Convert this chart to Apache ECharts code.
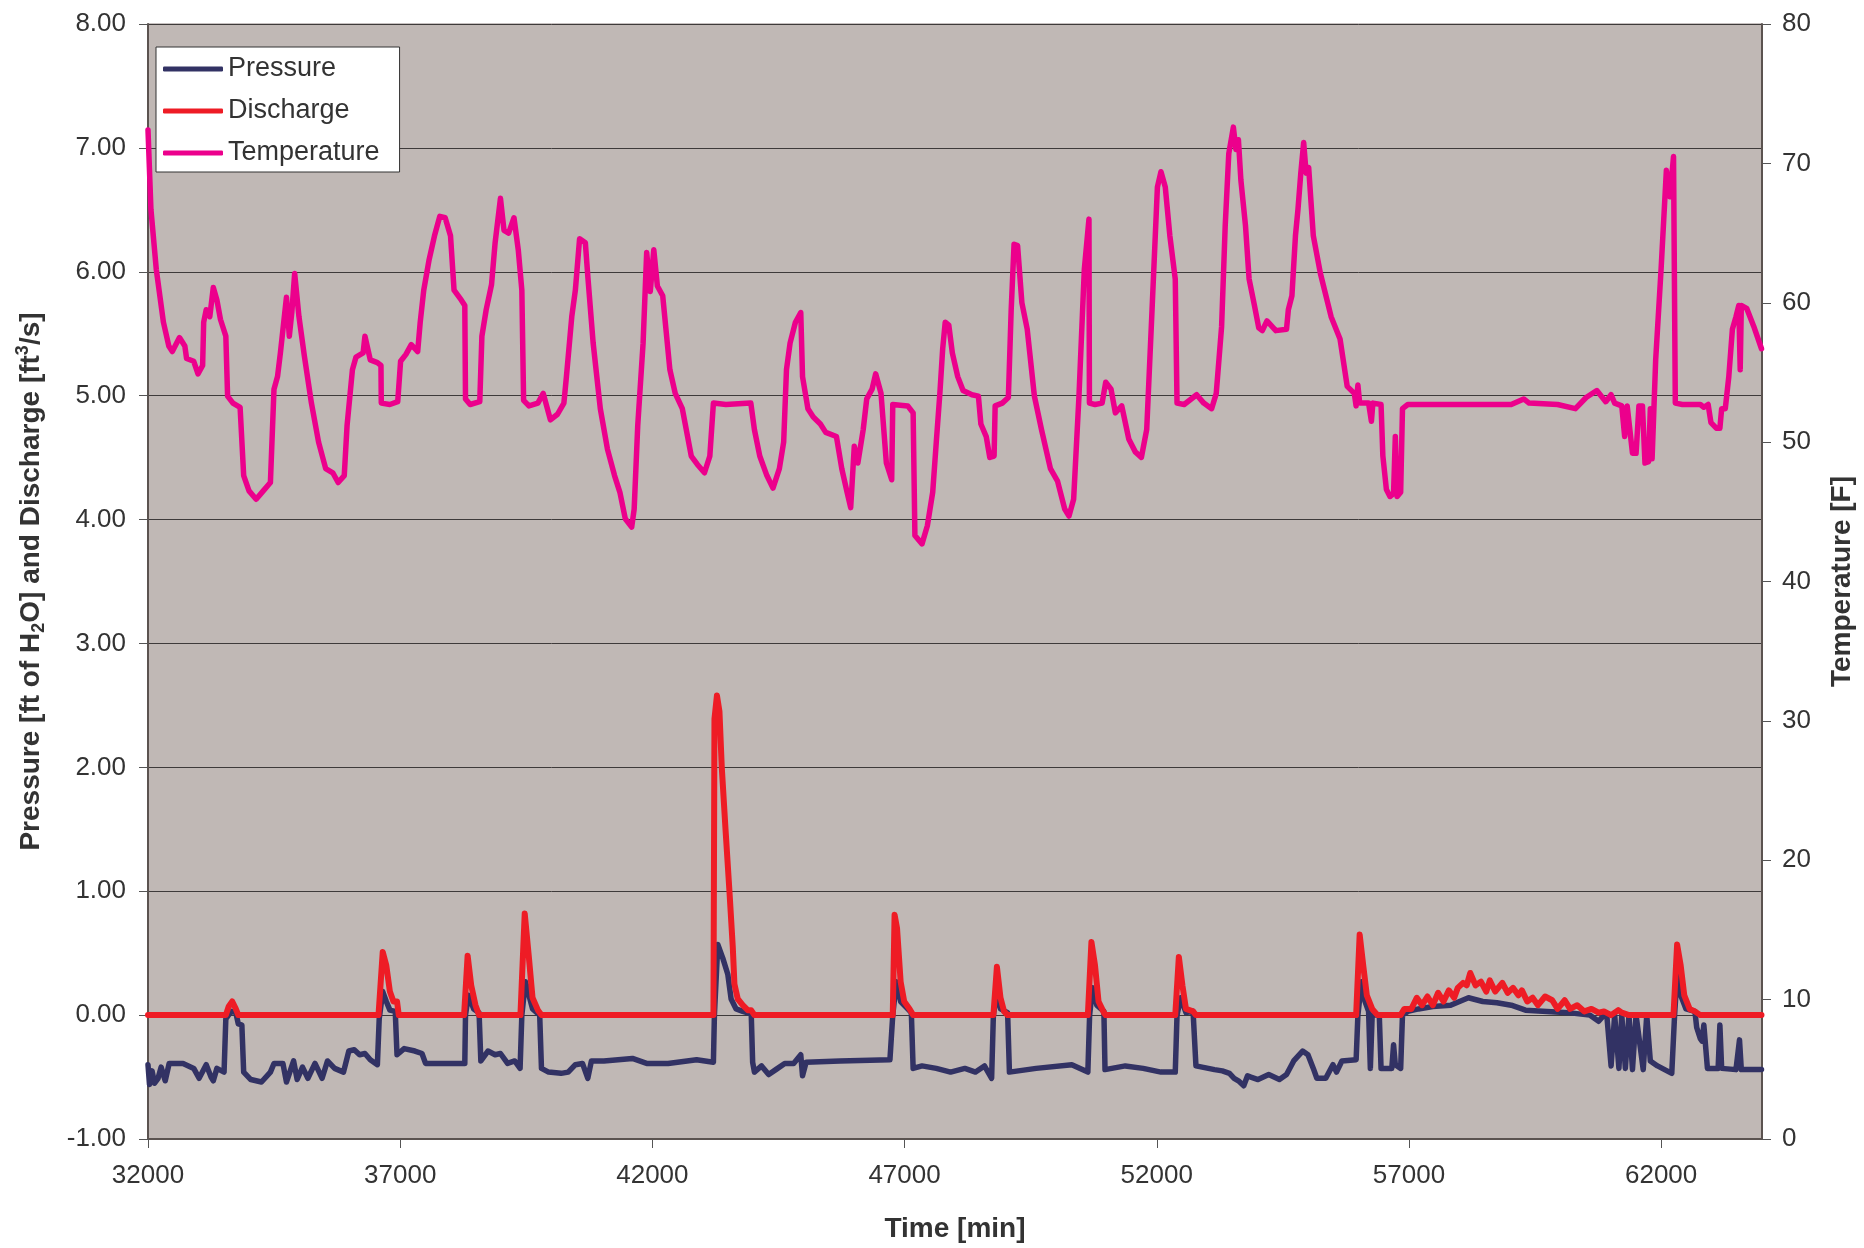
<!DOCTYPE html>
<html>
<head>
<meta charset="utf-8">
<script src="https://cdn.jsdelivr.net/npm/echarts@6/dist/echarts.min.js"></script>
<style>
html,body{margin:0;padding:0;background:#fff;}
#chart{width:1864px;height:1248px;}
</style>
</head>
<body>
<div id="chart"></div>
<script>
// ---- Data (time in minutes) ----
const T0 = 32000; // axis start
const xTickLabels = [32000, 37000, 42000, 47000, 52000, 57000, 62000];

const tempTime = [32000,32058,32164,32306,32412,32482,32624,32730,32765,32907,32991,33083,33104,33154,33225,33295,33366,33437,33543,33578,33684,33826,33897,34003,34144,34285,34427,34498,34568,34625,34745,34802,34851,34908,34993,35099,35240,35382,35523,35664,35770,35891,35947,36053,36124,36265,36301,36407,36548,36619,36625,36796,36951,37008,37114,37220,37347,37397,37467,37574,37680,37786,37892,37998,38068,38210,38281,38295,38387,38578,38620,38705,38811,38882,38988,39058,39150,39256,39341,39412,39447,39553,39730,39836,39978,40119,40246,40296,40402,40473,40557,40671,40720,40826,40968,41109,41250,41356,41463,41590,41639,41710,41816,41887,41958,42028,42099,42205,42347,42453,42594,42771,42892,43033,43139,43210,43457,43952,44023,44129,44270,44391,44518,44603,44659,44730,44836,44942,44977,45084,45190,45331,45437,45649,45755,45861,45932,46003,46074,46180,46250,46356,46427,46533,46639,46745,46766,47063,47170,47205,47346,47452,47558,47629,47700,47756,47806,47877,47947,48054,48160,48336,48464,48513,48619,48690,48775,48796,48937,49058,49114,49171,49241,49326,49432,49574,49715,49892,50033,50175,50260,50352,50458,50564,50656,50665,50776,50917,50988,51094,51179,51306,51447,51575,51695,51801,51907,52013,52084,52169,52260,52367,52402,52543,52791,52932,53088,53180,53286,53357,53428,53519,53569,53619,53668,53760,53831,53937,54022,54093,54185,54361,54573,54609,54680,54750,54800,54856,54913,54962,55012,55104,55245,55457,55634,55776,55917,55952,55988,56023,56200,56256,56285,56447,56483,56553,56624,56695,56730,56766,56836,56872,56978,57614,58180,59028,59276,59382,59947,60301,60513,60725,60902,61008,61079,61220,61277,61327,61432,61503,61560,61630,61680,61751,61786,61821,61892,61999,62104,62175,62246,62281,62423,62777,62847,62932,62988,63094,63165,63200,63272,63342,63413,63484,63540,63568,63590,63696,63837,63990];
const tempValues = [72.4,66.7,62.4,58.6,56.9,56.5,57.5,56.9,56.0,55.8,54.9,55.5,58.6,59.5,59.0,61.1,60.2,58.8,57.6,53.3,52.8,52.5,47.6,46.5,45.9,46.5,47.1,53.8,54.7,56.4,60.4,57.6,59.3,62.1,59.0,56.2,52.8,50.0,48.1,47.8,47.1,47.6,51.2,55.2,56.1,56.4,57.6,55.9,55.7,55.5,52.8,52.7,52.9,55.8,56.3,57.0,56.5,58.6,60.9,63.1,64.8,66.2,66.1,64.8,60.9,60.2,59.8,53.1,52.7,52.9,57.6,59.5,61.3,64.3,67.5,65.2,65.0,66.1,63.8,60.9,53.0,52.6,52.8,53.5,51.6,52.0,52.8,54.7,59.0,60.9,64.6,64.3,61.9,57.1,52.4,49.5,47.6,46.4,44.5,43.9,45.2,51.2,57.1,63.6,60.8,63.8,61.2,60.5,55.2,53.5,52.4,49.0,48.4,47.8,49.0,52.8,52.7,52.8,50.9,49.0,47.6,46.7,48.1,50.0,55.2,57.1,58.6,59.3,54.7,52.4,51.8,51.3,50.7,50.4,48.1,46.4,45.3,49.7,48.5,50.9,53.1,53.8,54.9,53.5,48.5,47.3,52.7,52.6,52.1,43.3,42.7,44.0,46.4,50.0,53.5,56.7,58.6,58.4,56.4,54.7,53.7,53.4,53.3,51.3,50.4,48.9,49.0,52.6,52.8,53.2,59.5,64.2,64.1,60.0,58.1,53.3,50.9,48.1,47.2,45.2,44.7,45.9,53.3,62.4,66.0,52.8,52.7,52.8,54.3,53.8,52.1,52.6,50.2,49.3,48.9,50.9,59.5,68.3,69.4,68.3,64.8,61.7,52.8,52.7,53.4,52.8,52.4,53.5,58.3,65.5,70.7,72.6,71.0,71.7,68.8,65.5,61.7,59.8,58.2,58.0,58.7,58.0,58.1,59.5,60.5,64.8,66.7,69.3,71.5,69.3,69.7,64.8,62.1,59.0,57.4,54.0,53.5,52.6,54.1,52.8,52.8,51.5,52.8,52.7,49.0,46.6,46.1,46.3,50.4,46.1,46.4,52.4,52.7,52.7,52.7,52.7,53.1,52.8,52.7,52.4,53.2,53.7,52.9,53.4,52.8,52.6,50.4,52.6,49.2,49.2,52.6,52.6,48.5,48.6,52.4,48.8,55.9,62.4,69.5,67.6,70.5,52.8,52.7,52.7,52.5,52.7,51.4,51.0,51.0,52.4,52.4,54.7,58.1,59.0,59.8,55.2,59.8,59.6,58.3,56.7];

const presTime = [32000,32030,32080,32130,32200,32260,32341,32420,32482,32695,32907,33013,33154,33250,33295,33366,33508,33543,33649,33741,33790,33861,33897,34038,34250,34427,34498,34675,34745,34887,34957,35063,35170,35311,35452,35558,35700,35876,35982,36089,36195,36301,36407,36548,36584,36654,36725,36796,36902,36937,37079,37291,37432,37503,38281,38295,38352,38458,38564,38599,38740,38882,38988,39129,39270,39377,39412,39483,39553,39624,39766,39801,39942,40190,40331,40473,40614,40720,40791,41039,41604,41887,42311,42877,43210,43230,43297,43396,43495,43561,43660,43792,43960,43988,44023,44164,44306,44447,44624,44801,44942,44977,45048,45720,46710,46766,46837,46922,47063,47134,47170,47346,47629,47912,48195,48407,48584,48726,48761,48831,48902,49043,49079,49609,50316,50634,50669,50726,50811,50952,50974,51377,51731,52084,52367,52402,52473,52579,52720,52777,53145,53300,53442,53534,53619,53725,53800,53866,54008,54220,54432,54573,54715,54892,54998,55104,55174,55351,55493,55564,55670,55953,55988,56059,56130,56200,56235,56271,56412,56447,56660,56695,56730,56836,56872,56978,57190,57473,57826,58180,58463,58745,59028,59311,59735,60160,60584,60761,60867,60923,61008,61079,61163,61220,61291,61362,61432,61503,61645,61715,61786,61928,62211,62267,62317,62388,62493,62670,62705,62777,62812,62847,62918,63130,63165,63200,63484,63554,63590,63990];
const presValues = [-0.40,-0.56,-0.45,-0.55,-0.51,-0.42,-0.53,-0.39,-0.39,-0.39,-0.43,-0.51,-0.40,-0.50,-0.53,-0.43,-0.46,-0.03,0.03,0.02,-0.07,-0.08,-0.46,-0.52,-0.54,-0.46,-0.39,-0.39,-0.54,-0.37,-0.52,-0.42,-0.51,-0.39,-0.51,-0.37,-0.43,-0.46,-0.29,-0.28,-0.32,-0.31,-0.36,-0.40,-0.03,0.19,0.11,0.04,0.03,-0.32,-0.27,-0.29,-0.31,-0.39,-0.39,0.00,0.16,0.05,0.02,-0.37,-0.29,-0.32,-0.31,-0.39,-0.37,-0.43,0.00,0.27,0.16,0.05,0.00,-0.43,-0.46,-0.47,-0.46,-0.40,-0.39,-0.51,-0.37,-0.37,-0.35,-0.39,-0.39,-0.36,-0.38,0.00,0.57,0.46,0.33,0.13,0.05,0.03,0.01,-0.38,-0.46,-0.41,-0.48,-0.44,-0.39,-0.39,-0.32,-0.49,-0.38,-0.37,-0.36,0.00,0.27,0.11,0.05,0.02,-0.43,-0.41,-0.43,-0.46,-0.43,-0.46,-0.41,-0.51,0.00,0.19,0.05,0.02,-0.46,-0.43,-0.40,-0.46,0.00,0.22,0.08,0.03,-0.44,-0.41,-0.43,-0.46,-0.46,0.00,0.14,0.02,0.03,-0.41,-0.44,-0.45,-0.47,-0.51,-0.53,-0.57,-0.49,-0.50,-0.52,-0.48,-0.52,-0.48,-0.37,-0.29,-0.32,-0.43,-0.51,-0.51,-0.40,-0.46,-0.37,-0.36,0.00,0.27,0.11,0.03,-0.43,0.00,0.00,-0.43,-0.43,-0.24,-0.40,-0.43,0.00,0.03,0.05,0.07,0.08,0.14,0.11,0.10,0.08,0.04,0.03,0.02,0.00,-0.05,0.00,0.00,-0.41,0.00,-0.43,0.00,-0.43,0.00,-0.44,0.00,-0.44,0.00,-0.37,-0.41,-0.47,0.00,0.32,0.16,0.05,0.03,-0.10,-0.19,-0.21,-0.08,-0.43,-0.43,-0.08,-0.43,-0.44,-0.20,-0.44,-0.44];

const dischTime = [32000,33543,33600,33670,33741,33790,36570,36654,36725,36796,36866,36937,36972,38267,38337,38408,38493,38564,39384,39469,39553,39624,39730,39801,43211,43231,43280,43330,43376,43450,43528,43594,43627,43693,43792,43891,43957,44023,46766,46802,46851,46922,46993,47099,47170,48761,48831,48902,48973,49043,50634,50705,50776,50846,50952,50988,52367,52438,52509,52579,52720,52777,55953,56023,56094,56165,56271,56377,56836,56907,57048,57155,57260,57367,57473,57579,57685,57791,57897,57968,58074,58145,58215,58321,58427,58533,58604,58710,58852,58958,59063,59170,59240,59346,59452,59558,59700,59841,59947,60089,60195,60337,60478,60620,60761,60867,61008,61150,61220,61362,62245,62317,62388,62459,62565,62670,62777,63990];
const dischValues = [0,0,0.07,0.11,0.05,0,0,0.51,0.40,0.19,0.11,0.11,0,0,0.48,0.24,0.08,0,0,0.82,0.46,0.14,0.04,0,0,2.39,2.58,2.45,2.0,1.5,1.0,0.55,0.25,0.13,0.08,0.04,0.04,0,0,0.81,0.70,0.27,0.11,0.05,0,0,0.39,0.14,0.03,0,0,0.59,0.40,0.11,0.02,0,0,0.47,0.24,0.05,0.03,0,0,0.65,0.40,0.16,0.05,0,0,0.05,0.05,0.14,0.08,0.15,0.08,0.18,0.11,0.20,0.14,0.22,0.26,0.24,0.34,0.24,0.27,0.19,0.28,0.19,0.26,0.18,0.22,0.16,0.20,0.11,0.14,0.08,0.15,0.12,0.05,0.12,0.05,0.08,0.03,0.05,0.02,0.03,0,0.04,0.02,0,0,0.57,0.40,0.16,0.05,0.03,0,0];

function pairs(times, vals) {
  return times.map((t, i) => [t - T0, vals[i]]);
}

const FONT = "'Liberation Sans', Arial, sans-serif";
const TXT = '#333333';

const chart = echarts.init(document.getElementById('chart'), null, {renderer: 'canvas'});
chart.setOption({
  animation: false,
  backgroundColor: '#ffffff',
  textStyle: {fontFamily: FONT},
  grid: {
    left: 148, right: 102, top: 24, bottom: 107,
    show: true, backgroundColor: '#c0b8b5', borderColor: '#8e8380', borderWidth: 1,
    containLabel: false
  },
  legend: {
    orient: 'vertical',
    left: 156, top: 47,
    backgroundColor: '#ffffff',
    borderColor: '#333333', borderWidth: 1, borderRadius: 0,
    padding: [7, 20, 4, 7],
    itemGap: 12,
    itemWidth: 60, itemHeight: 5,
    icon: 'roundRect',
    textStyle: {fontSize: 27, color: TXT, fontFamily: FONT, lineHeight: 30},
    data: ['Pressure', 'Discharge', 'Temperature']
  },
  xAxis: {
    type: 'value', min: 0, max: 32000, interval: 5000,
    name: 'Time [min]', nameLocation: 'middle', nameGap: 76,
    nameTextStyle: {fontSize: 28, fontWeight: 'bold', color: TXT, fontFamily: FONT},
    axisLine: {show: true, onZero: false, lineStyle: {color: '#5b5350', width: 2}},
    axisTick: {show: true, inside: false, length: 9, lineStyle: {color: '#555'}},
    axisLabel: {fontSize: 26, color: TXT, margin: 24, fontFamily: FONT, showMaxLabel: false,
      formatter: v => String(v + T0)},
    splitLine: {show: false}
  },
  yAxis: [
    {
      type: 'value', position: 'left', min: -1, max: 8, interval: 1,
      name: 'Pressure [ft of H{sub|2}O] and Discharge [ft{sup|3}/s]',
      nameLocation: 'middle', nameRotate: 90, nameGap: 100,
      nameTextStyle: {fontSize: 28, fontWeight: 'bold', color: TXT, fontFamily: FONT, lineHeight: 34,
        rich: {
          sub: {fontSize: 18, fontWeight: 'bold', color: TXT, fontFamily: FONT, lineHeight: 18, verticalAlign: 'bottom'},
          sup: {fontSize: 18, fontWeight: 'bold', color: TXT, fontFamily: FONT, lineHeight: 18, verticalAlign: 'top'}
        }},
      axisLine: {show: true, onZero: false, lineStyle: {color: '#5b5350', width: 2}},
      axisTick: {show: true, inside: false, length: 9, lineStyle: {color: '#555'}},
      axisLabel: {fontSize: 26, color: TXT, margin: 22, fontFamily: FONT, formatter: v => v.toFixed(2)},
      splitLine: {show: true, lineStyle: {color: '#3e3a3a', width: 1}}
    },
    {
      type: 'value', position: 'right', min: 0, max: 80, interval: 10,
      name: 'Temperature [F]', nameLocation: 'middle', nameRotate: 90, nameGap: 66,
      nameTextStyle: {fontSize: 28, fontWeight: 'bold', color: TXT, fontFamily: FONT},
      axisLine: {show: true, onZero: false, lineStyle: {color: '#5b5350', width: 2}},
      axisTick: {show: true, inside: false, length: 9, lineStyle: {color: '#555'}},
      axisLabel: {fontSize: 26, color: TXT, margin: 20, fontFamily: FONT},
      splitLine: {show: false}
    }
  ],
  series: [
    {
      name: 'Pressure', type: 'line', yAxisIndex: 0, showSymbol: false, symbol: 'none',
      data: pairs(presTime, presValues),
      itemStyle: {color: '#323264'},
      lineStyle: {color: '#323264', width: 5.5, join: 'round', cap: 'round'}
    },
    {
      name: 'Discharge', type: 'line', yAxisIndex: 0, showSymbol: false, symbol: 'none',
      data: pairs(dischTime, dischValues),
      itemStyle: {color: '#ee1c25'},
      lineStyle: {color: '#ee1c25', width: 6, join: 'round', cap: 'round'}
    },
    {
      name: 'Temperature', type: 'line', yAxisIndex: 1, showSymbol: false, symbol: 'none',
      data: pairs(tempTime, tempValues),
      itemStyle: {color: '#ec008c'},
      lineStyle: {color: '#ec008c', width: 5.5, join: 'round', cap: 'round'}
    }
  ]
});
</script>
</body>
</html>
